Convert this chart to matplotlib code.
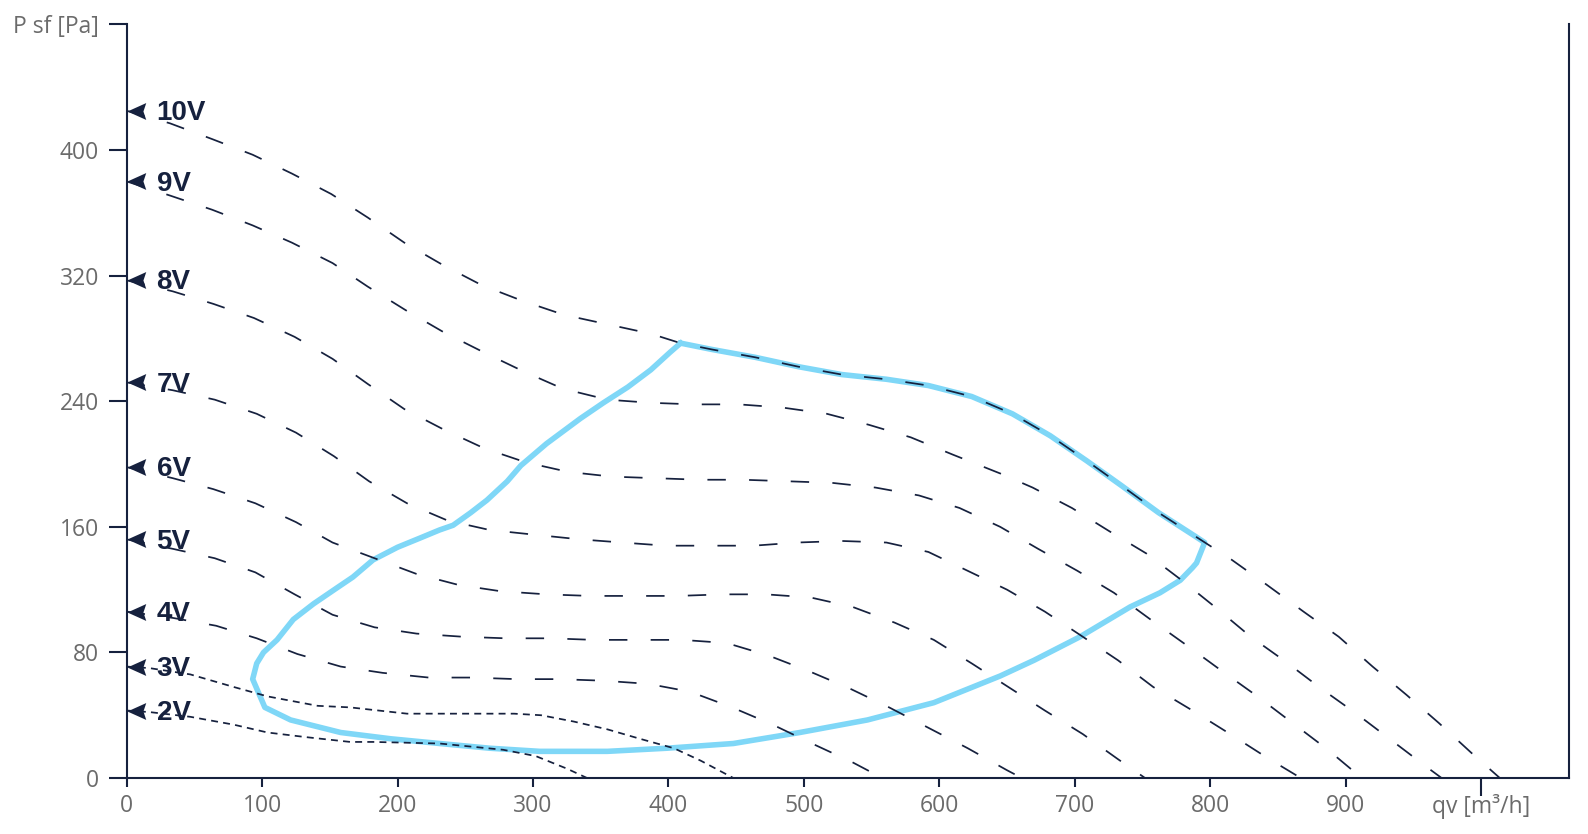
import matplotlib
matplotlib.use("Agg")
import matplotlib.pyplot as plt
from matplotlib.path import Path
from matplotlib.markers import MarkerStyle

plt.rcParams['font.family'] = ['Open Sans', 'DejaVu Sans']

NAVY = "#16213e"
GRAY = "#6b6b6b"
BLUE = "#7fd7f7"

# ---- data ----
labels = ["10V", "9V", "8V", "7V", "6V", "5V", "4V", "3V", "2V"]

x10 = [0, 32, 63, 93, 122, 151, 178, 205, 233, 262, 292, 323, 355, 387, 409, 432, 464, 496, 528, 561, 592, 624, 654, 682, 709, 735, 762, 789, 816, 842, 869, 895, 920, 945, 969, 993, 1014]
y10 = [425, 417, 407, 397, 385, 372, 357, 341, 327, 314, 304, 295, 289, 283, 277, 273, 268, 262, 257, 254, 250, 243, 232, 218, 202, 186, 169, 154, 139, 123, 106, 90, 71, 53, 35, 16, 0]

x9 = [0, 32, 63, 93, 122, 152, 178, 206, 234, 264, 293, 322, 355, 387, 419, 452, 484, 517, 548, 579, 610, 645, 669, 698, 726, 753, 779, 805, 830, 856, 882, 908, 934, 960, 971]
y9 = [380, 371, 362, 352, 341, 328, 313, 298, 284, 271, 259, 248, 241, 239, 238, 238, 236, 232, 225, 217, 206, 194, 185, 172, 157, 143, 126, 108, 90, 74, 57, 41, 24, 7, 0]

x8 = [0, 34, 64, 94, 124, 152, 178, 205, 234, 264, 295, 326, 358, 390, 423, 455, 489, 521, 553, 585, 615, 645, 673, 702, 729, 756, 782, 809, 835, 861, 887, 912]
y8 = [317, 310, 302, 293, 281, 267, 251, 235, 222, 210, 201, 195, 192, 191, 190, 190, 189, 188, 185, 180, 172, 160, 146, 132, 118, 101, 85, 68, 52, 35, 18, 0]

x7 = [0, 34, 65, 96, 125, 153, 179, 207, 237, 268, 301, 335, 366, 398, 430, 463, 495, 528, 561, 592, 621, 650, 678, 706, 732, 758, 787, 813, 842, 867]
y7 = [252, 247, 241, 232, 220, 205, 189, 175, 164, 158, 155, 152, 150, 148, 148, 148, 150, 151, 150, 144, 132, 120, 106, 90, 75, 58, 43, 29, 13, 0]

x6 = [0, 34, 64, 95, 125, 152, 183, 214, 245, 276, 310, 342, 374, 407, 440, 472, 505, 536, 567, 596, 624, 651, 678, 706, 732, 752]
y6 = [198, 191, 184, 175, 163, 150, 140, 130, 123, 119, 117, 116, 116, 116, 117, 117, 115, 109, 99, 88, 73, 58, 43, 28, 12, 0]

x5 = [0, 34, 65, 95, 124, 152, 183, 214, 248, 280, 313, 345, 377, 410, 443, 474, 504, 534, 563, 592, 621, 650, 661]
y5 = [152, 146, 140, 131, 117, 104, 96, 92, 90, 89, 89, 88, 88, 88, 86, 78, 68, 57, 45, 32, 19, 5, 0]

x4 = [0, 34, 66, 96, 126, 158, 189, 223, 255, 288, 319, 352, 385, 416, 447, 477, 506, 536, 558]
y4 = [106, 102, 97, 89, 79, 71, 67, 64, 64, 63, 63, 62, 60, 55, 45, 34, 22, 10, 0]

x3 = [0, 17, 47, 79, 104, 141, 165, 207, 256, 286, 306, 330, 355, 379, 404, 424, 448]
y3 = [71, 70, 66, 58, 52, 46, 45, 41, 41, 41, 40, 36, 31, 25, 19, 11, 0]

x2 = [0, 17, 47, 79, 104, 133, 165, 182, 231, 278, 302, 325, 340]
y2 = [43, 42, 39, 34, 29, 26, 23, 23, 22, 18, 14, 6, 0]

env_x = [409, 432, 464, 496, 528, 561, 592, 624, 654, 682, 709, 735, 762, 789, 796,
         790, 787, 778, 763, 741, 704, 670, 645, 596, 547, 497, 448, 399, 355, 305,
         268, 231, 195, 158, 121, 102, 93, 96, 101, 111, 123, 138, 155, 167, 182, 200,
         217, 231, 241, 254, 266, 281, 291, 310, 335, 352, 370, 387, 401, 409]
env_y = [277, 273, 268, 262, 257, 254, 250, 243, 232, 218, 202, 186, 169, 154, 150,
         137, 134, 126, 118, 109, 90, 75, 65, 48, 37, 29, 22, 19, 17, 17,
         19, 22, 25, 29, 37, 45, 63, 73, 80, 88, 101, 111, 121, 128, 139, 147,
         153, 158, 161, 169, 177, 189, 199, 213, 229, 239, 249, 260, 271, 277]

y_ticks = [0, 80, 160, 240, 320, 400, 480]
y_ticklabels = ["0", "80", "160", "240", "320", "400", "P sf [Pa]"]
x_ticks = [0, 100, 200, 300, 400, 500, 600, 700, 800, 900, 1000]
x_ticklabels = ["0", "100", "200", "300", "400", "500", "600", "700", "800", "900", "qv [m\u00b3/h]"]

curves = [(x10, y10), (x9, y9), (x8, y8), (x7, y7), (x6, y6), (x5, y5), (x4, y4), (x3, y3), (x2, y2)]

# ---- figure ----
fig = plt.figure(figsize=(15.88, 8.34), dpi=100)
ax = fig.add_axes([0.0798, 0.0671, 0.9880 - 0.0798, 0.9707 - 0.0671])
ax.set_xlim(0, 1065)
ax.set_ylim(0, 480)

ax.plot(env_x, env_y, color=BLUE, lw=4.0, solid_joinstyle='round', zorder=2)

arrow = MarkerStyle(Path([(0, 0), (1, 0.45), (0.85, 0), (1, -0.45), (0, 0)],
                         [Path.MOVETO, Path.LINETO, Path.LINETO, Path.LINETO, Path.CLOSEPOLY]))

lw = 1.25
for lab, (xs, ys) in zip(labels, curves):
    if lab in ("3V", "2V"):
        dash = (4.0, 3.0)
    else:
        dash = (10.6, 13.4)
    ax.plot(xs, ys, color=NAVY, lw=lw, dashes=dash, zorder=3)
    ax.plot([xs[0]], [ys[0]], marker=arrow, markersize=27, color=NAVY,
            markeredgewidth=0, linestyle='none', zorder=4, clip_on=False)
    ax.text(22, ys[0] - 5.8, lab, fontsize=20, fontweight='bold', color=NAVY,
            family=['Liberation Sans', 'DejaVu Sans'], va='baseline', ha='left', zorder=5)

for s in ['top']:
    ax.spines[s].set_visible(False)
for s in ['left', 'bottom', 'right']:
    ax.spines[s].set_color(NAVY)
    ax.spines[s].set_linewidth(1.5)

ax.set_yticks(y_ticks)
ax.set_yticklabels(y_ticklabels)
ax.set_xticks(x_ticks)
ax.set_xticklabels(x_ticklabels)
ax.tick_params(axis='y', length=13, width=1.5, color=NAVY, labelcolor=GRAY, labelsize=16.5, pad=7)
ax.tick_params(axis='x', length=6.5, width=1.5, color=NAVY, labelcolor=GRAY, labelsize=16.5, pad=5)
ax.xaxis.get_major_ticks()[-1].tick1line.set_markersize(13)

fig.savefig("out.png", dpi=100)
